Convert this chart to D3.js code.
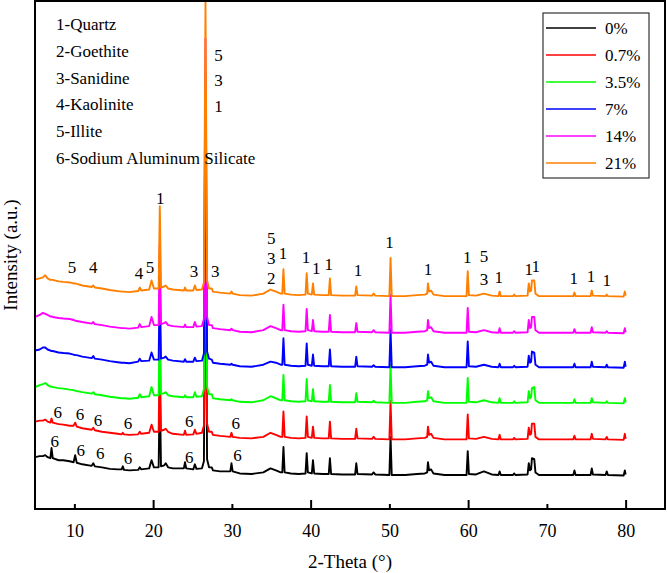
<!DOCTYPE html>
<html>
<head>
<meta charset="utf-8">
<script src="https://cdn.jsdelivr.net/npm/d3@7"></script>
<style>
  body { margin: 0; background: #fff; }
  text { font-family: "Liberation Serif", "Times New Roman", serif; fill: #000; }
</style>
</head>
<body>
<script>
//XRD patterns, stacked with an offset per sample

//2-theta positions shared by every pattern
var twoTheta = [
  5.0, 5.6, 6.0, 6.3, 6.6, 6.95, 7.1, 7.25, 8.0, 8.6,
  9.4, 9.9, 10.1, 10.3, 11.0, 12.2, 12.4, 12.6, 13.5, 14.5,
  15.5, 16.0, 16.15, 16.3, 17.0, 18.1, 18.3, 18.5, 19.5, 19.8,
  20.1, 20.7, 20.85, 21.0, 21.4, 21.6, 21.9, 22.5, 23.9, 24.05,
  24.2, 25.1, 25.3, 25.5, 26.2, 26.45, 26.65, 26.85, 27.1, 27.45,
  27.6, 28.5, 29.8, 29.95, 30.1, 31.0, 32.5, 34.0, 34.9, 35.6,
  36.2, 36.4, 36.55, 36.7, 37.5, 38.5, 39.35, 39.5, 39.65, 40.15,
  40.3, 40.45, 41.5, 42.3, 42.45, 42.6, 44.0, 45.65, 45.8, 45.95,
  47.8, 48.0, 48.2, 50.0, 50.15, 50.3, 52.0, 53.5, 54.5, 54.8,
  54.9, 55.05, 55.3, 55.6, 57.0, 59.8, 59.95, 60.1, 61.0, 62.0,
  63.0, 63.85, 64.0, 64.15, 65.7, 65.85, 66.0, 67.55, 67.7, 67.85,
  68.0, 68.1, 68.4, 68.55, 69.0, 73.35, 73.5, 73.65, 75.55, 75.7,
  75.85, 77.45, 77.6, 77.75, 79.75, 79.9, 80.0
];

//intensity (a.u.) of each sample at those positions
var int0 = [
  18, 19, 19, 20, 18, 17, 27, 17, 15, 15,
  14, 13, 20, 12.5, 11, 9.5, 12, 9, 8, 6.5,
  6, 6, 9, 5.5, 5, 5.5, 8, 6, 7, 15,
  8, 8, 89, 9, 10, 12, 8, 7, 7, 13,
  7, 6, 11, 6.5, 7, 14, 290, 16, 8, 8,
  5, 4, 4, 12, 4, 2, 1.5, 3, 7, 5,
  3, 3, 28, 3, 2, 1.5, 2, 22, 3, 2,
  15, 2, 1.5, 1.5, 17, 1.5, 1, 1, 12, 1.5,
  1, 3, 1, 0.5, 38, 0.5, 0.5, 1.5, 2, 3,
  13, 5, 6, 2, 0.5, 0.5, 24, 1.5, 1, 4,
  1, 0.5, 4, 0.5, 0.5, 2, 0.5, 1, 12, 5,
  6, 17, 16, 3, 0.5, 0.5, 5, 0.5, 0.5, 7,
  1, 0.5, 4, 0.5, 0, 5, 1
];
var int07 = [
  18, 19, 19, 20, 18, 17, 21, 17, 15.5, 15,
  14, 14, 17, 13, 11.5, 10, 12, 9.5, 8, 7,
  6, 5.5, 7, 5.5, 5, 5.5, 8, 6, 7, 15,
  8, 8, 89, 9, 10, 11, 8, 6, 5, 9,
  5, 5.5, 10, 6, 7, 14, 290, 16, 8, 8,
  5, 4, 3, 7, 3, 2, 1.5, 3, 7, 5,
  3, 3, 28, 3, 2, 1.5, 2, 23, 3, 2,
  13, 2, 1.5, 1.5, 18, 1.5, 1, 1, 11, 1.5,
  1, 3, 1, 0.5, 38, 0.5, 0.5, 1.5, 2, 3,
  13, 5, 6, 2, 0.5, 0.5, 25, 1.5, 1, 3,
  1, 0.5, 5, 0.5, 0.5, 2, 0.5, 1, 12, 5,
  6, 16, 16, 3, 0.5, 0.5, 4, 0.5, 0.5, 6,
  1, 0.5, 3, 0.5, 0, 6, 1
];
var int35 = [
  16, 18, 19, 20, 18, 16.5, 16.5, 16, 15, 14.5,
  13.5, 13, 12.5, 12, 11, 9.5, 11, 9, 8, 6.5,
  5.5, 5, 5, 5, 4.5, 5.5, 9, 6, 7, 16,
  8, 8, 89, 9, 10, 11, 8, 7, 6, 8,
  6, 6, 11, 6.5, 7, 14, 290, 16, 9, 9,
  5, 4, 3, 4, 3, 1.5, 1, 3, 7, 5,
  3, 3, 28, 3, 2, 1.5, 2, 24, 3, 2,
  14, 2, 1.5, 1.5, 18, 1.5, 1, 1, 10, 1.5,
  1, 2.5, 1, 0.5, 38, 0.5, 0.5, 1.5, 2, 3,
  12, 5, 6, 2, 0.5, 0.5, 25, 1.5, 1, 3,
  1, 0.5, 5, 0.5, 0.5, 2, 0.5, 1, 12, 5,
  6, 15, 16, 3, 0.5, 0.5, 4, 0.5, 0.5, 5,
  1, 0.5, 2, 0.5, 0, 5, 1
];
var int7 = [
  17, 18, 20, 20, 18, 17, 16.5, 16.5, 15, 14.5,
  14, 13, 12.5, 12.5, 11, 9.5, 11.5, 9, 8, 6.5,
  5.5, 5, 5, 5, 4.5, 6, 9, 6.5, 7, 15,
  8, 8, 89, 9, 10, 11, 8, 7, 6, 8.5,
  6, 6, 10, 6.5, 7, 14, 290, 16, 9, 8,
  5, 4, 3, 4, 3, 1.5, 1, 3, 6, 5,
  3, 3, 29, 3, 2, 1.5, 2, 24, 3, 2,
  13, 2, 1.5, 1.5, 18, 1.5, 1, 1, 11, 1.5,
  1, 2.5, 1, 0.5, 38, 0.5, 0.5, 1.5, 2, 3,
  13, 5, 6, 2, 0.5, 0.5, 26, 1.5, 1, 3,
  1, 0.5, 4, 0.5, 0.5, 2, 0.5, 1, 12, 5,
  6, 16, 15, 3, 0.5, 0.5, 4, 0.5, 0.5, 6,
  1, 0.5, 3, 0.5, 0, 6, 1
];
var int14 = [
  16, 18, 20, 19, 18, 16.5, 16.5, 16, 15, 14.5,
  14, 13, 12.5, 12, 11, 9.5, 11, 9, 8, 6.5,
  5.5, 5, 5, 5, 4.5, 5.5, 9, 6, 7, 16,
  8, 8, 89, 9, 10, 11, 8, 7, 6, 8.5,
  6, 6, 11, 6.5, 7, 14, 290, 16, 8, 8,
  5, 4, 3, 4.5, 3, 1.5, 1, 3, 7, 5,
  3, 3, 28, 3, 2, 1.5, 2, 24, 3, 2,
  13, 2, 1.5, 1.5, 18, 1.5, 1, 1, 10, 1.5,
  1, 3, 1, 0.5, 38, 0.5, 0.5, 1.5, 2, 3,
  13, 5, 6, 2, 0.5, 0.5, 25, 1.5, 1, 3,
  1, 0.5, 5, 0.5, 0.5, 2, 0.5, 1, 13, 5,
  6, 16, 16, 3, 0.5, 0.5, 4, 0.5, 0.5, 6,
  1, 0.5, 2, 0.5, 0, 5, 1
];
var int21 = [
  17, 18, 19, 21, 18, 16.5, 16.5, 16.5, 15, 14.5,
  14, 13, 13, 12.5, 11, 9.5, 11, 9, 8, 6.5,
  5.5, 5, 5, 5, 4.5, 5.5, 9, 6, 7, 16,
  8, 8, 89, 9, 10, 11, 8, 7, 6, 9,
  6, 6, 11, 6.5, 7, 14, 290, 16, 8, 8,
  5, 4, 3, 5, 3, 1.5, 1, 3, 7, 5,
  3, 3, 27, 3, 2, 1.5, 2, 23, 3, 2,
  13, 2, 1.5, 1.5, 18, 1.5, 1, 1, 10, 1.5,
  1, 3, 1, 0.5, 38, 0.5, 0.5, 1.5, 2, 3,
  13, 5, 6, 2, 0.5, 0.5, 25, 1.5, 1, 3,
  1, 0.5, 5, 0.5, 0.5, 2, 0.5, 1, 13, 5,
  6, 16, 16, 3, 0.5, 0.5, 4, 0.5, 0.5, 6,
  1, 0.5, 2, 0.5, 0, 5, 1
];

var sampleNames = ["0%", "0.7%", "3.5%", "7%", "14%", "21%"];
var sampleValues = [int0, int07, int35, int7, int14, int21];
var sampleOffsets = [33, 68, 104, 139, 173, 209];
var sampleColors = ["#000000", "#ff0000", "#00ff00", "#0000ff", "#ff00ff", "#ff8000"];

//phase key
var phaseNames = ["1-Quartz", "2-Goethite", "3-Sanidine", "4-Kaolinite", "5-Illite", "6-Sodium Aluminum Silicate"];

//peak labels: [2-theta, intensity, text]
var peakLabels = [
  [9.7, 238, "5"], [12.4, 238, "4"], [18.2, 232, "4"], [19.6, 238, "5"], [20.9, 306, "1"],
  [25.2, 234, "3"], [27.9, 234, "3"], [28.3, 447, "5"], [28.3, 422, "3"], [28.3, 397, "1"],
  [35.0, 267, "5"], [35.0, 247, "3"], [35.0, 227, "2"], [36.5, 252, "1"], [39.4, 248, "1"],
  [40.7, 237, "1"], [42.3, 241, "1"], [46.0, 235, "1"], [50.0, 263, "1"], [54.9, 236, "1"],
  [59.9, 248, "1"], [62.0, 249, "5"], [62.0, 226, "3"], [63.9, 228, "1"], [67.7, 236, "1"],
  [68.6, 239, "1"], [73.4, 227, "1"], [75.6, 229, "1"], [77.6, 225, "1"],
  [7.9, 95, "6"], [10.7, 93, "6"], [13.0, 88, "6"], [16.8, 85, "6"], [24.6, 87, "6"], [30.5, 85, "6"],
  [7.5, 67, "6"], [10.8, 58, "6"], [13.3, 55, "6"], [16.8, 50, "6"], [24.6, 51, "6"], [30.7, 53, "6"]
];

var xTicks = [10, 20, 30, 40, 50, 60, 70, 80];

var width = 667,
    height = 573;
var plot = {left: 35, right: 665, top: 1, bottom: 509};

var svg = d3.select("body")
    .append("svg")
    .attr("width", width)
    .attr("height", height);

var x = d3.scaleLinear()
    .domain([5, 85])
    .range([plot.left, plot.right]);

var y = d3.scaleLinear()
    .domain([0, 500])
    .range([plot.bottom, plot.top]);

svg.append("clipPath")
    .attr("id", "plotClip")
  .append("rect")
    .attr("x", plot.left)
    .attr("y", plot.top)
    .attr("width", plot.right - plot.left)
    .attr("height", plot.bottom - plot.top);

//patterns, 0% drawn first so 21% sits on top
var line = d3.line()
    .x(function(d){ return x(d[0]); })
    .y(function(d){ return y(d[1]); });

var lines = svg.append("g").attr("clip-path", "url(#plotClip)");
sampleValues.forEach(function(vals, i){
    var pts = twoTheta.map(function(t, j){ return [t, vals[j] + sampleOffsets[i]]; });
    lines.append("path")
        .datum(pts)
        .attr("fill", "none")
        .attr("stroke", sampleColors[i])
        .attr("stroke-width", 1.9)
        .attr("stroke-linejoin", "round")
        .attr("d", line);
});

//peak labels
svg.append("g").selectAll("text")
    .data(peakLabels)
    .enter()
    .append("text")
    .attr("x", function(d){ return x(d[0]); })
    .attr("y", function(d){ return y(d[1]); })
    .attr("dy", "0.35em")
    .attr("text-anchor", "middle")
    .style("font-size", "17px")
    .text(function(d){ return d[2]; });

//bottom axis with inward ticks, long ones every 20
var xAxis = d3.axisBottom(x)
    .tickValues(xTicks)
    .tickSizeInner(-5)
    .tickSizeOuter(0)
    .tickPadding(15)
    .tickFormat(d3.format("d"));

var gx = svg.append("g")
    .attr("transform", "translate(0," + plot.bottom + ")")
    .call(xAxis);
gx.select(".domain").remove();
gx.selectAll(".tick line")
    .attr("stroke", "#000")
    .attr("stroke-width", 2)
    .attr("y2", function(d){ return d % 20 === 0 ? -9 : -5; });
gx.selectAll(".tick text")
    .style("font-family", "'Liberation Serif', serif")
    .style("font-size", "18px");

//frame
svg.append("rect")
    .attr("x", plot.left)
    .attr("y", plot.top)
    .attr("width", plot.right - plot.left)
    .attr("height", plot.bottom - plot.top)
    .attr("fill", "none")
    .attr("stroke", "#000")
    .attr("stroke-width", 2);

//axis titles
svg.append("text")
    .attr("x", (plot.left + plot.right) / 2)
    .attr("y", 568)
    .attr("text-anchor", "middle")
    .style("font-size", "19px")
    .text("2-Theta (\u00b0)");

svg.append("text")
    .attr("transform", "translate(17," + (plot.top + plot.bottom) / 2 + ") rotate(-90)")
    .attr("text-anchor", "middle")
    .style("font-size", "19px")
    .text("Intensity (a.u.)");

//phase key, top left
svg.append("g").selectAll("text")
    .data(phaseNames)
    .enter()
    .append("text")
    .attr("x", 56)
    .attr("y", function(d, i){ return 24 + i * 26.8; })
    .attr("dy", "0.35em")
    .style("font-size", "17px")
    .text(function(d){ return d; });

//legend box
var legend = svg.append("g");
legend.append("rect")
    .attr("x", 543)
    .attr("y", 13)
    .attr("width", 106)
    .attr("height", 165)
    .attr("fill", "#fff")
    .attr("stroke", "#333")
    .attr("stroke-width", 1.2);

var entry = legend.selectAll(".entry")
    .data(sampleNames)
    .enter()
    .append("g")
    .attr("class", "entry")
    .attr("transform", function(d, i){ return "translate(0," + (28 + i * 27) + ")"; });
entry.append("line")
    .attr("x1", 546)
    .attr("x2", 596)
    .attr("stroke", function(d, i){ return sampleColors[i]; })
    .attr("stroke-width", 1.6);
entry.append("text")
    .attr("x", 605)
    .attr("dy", "0.35em")
    .style("font-size", "17px")
    .text(function(d){ return d; });
</script>
</body>
</html>
